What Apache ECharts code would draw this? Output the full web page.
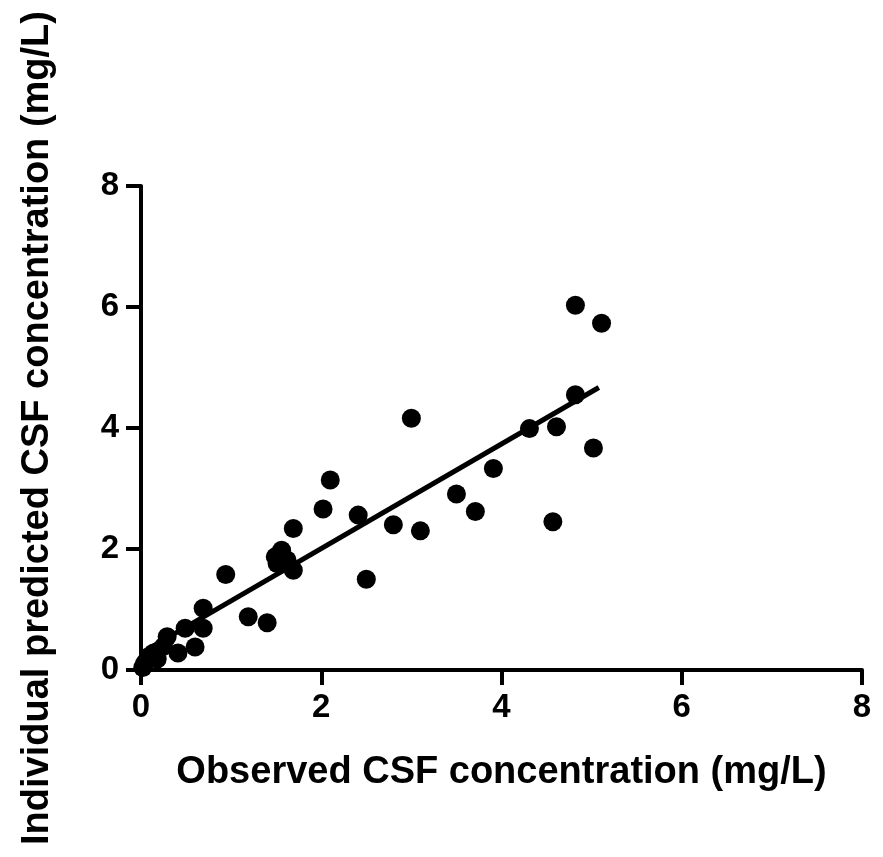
<!DOCTYPE html>
<html>
<head>
<meta charset="utf-8">
<script src="https://cdn.jsdelivr.net/npm/echarts@6/dist/echarts.min.js"></script>
<style>
html,body{margin:0;padding:0;background:#fff;}
#chart{width:883px;height:857px;}
</style>
</head>
<body>
<div id="chart"></div>
<script>
// Observed (x) vs individual predicted (y) CSF concentrations, mg/L
const observed = [4.82, 5.11, 4.82, 4.31, 4.61, 5.02, 3.91, 3.71, 4.57, 3.00,
  2.10, 2.02, 2.41, 2.80, 3.10, 3.50, 2.50, 1.69, 1.56, 1.49,
  1.51, 1.69, 1.62, 0.94, 1.19, 1.40, 0.69, 0.69, 0.49, 0.60,
  0.29, 0.41, 0.25, 0.14, 0.07, 0.04, 0.18, 0.02];
const predicted = [6.03, 5.73, 4.55, 3.99, 4.02, 3.67, 3.33, 2.62, 2.45, 4.16,
  3.14, 2.66, 2.56, 2.40, 2.30, 2.91, 1.50, 2.34, 1.98, 1.87,
  1.76, 1.65, 1.82, 1.58, 0.88, 0.78, 1.02, 0.69, 0.69, 0.38,
  0.55, 0.28, 0.39, 0.28, 0.17, 0.11, 0.18, 0.04];
// Regression line end points
const fitX = [0, 5.08];
const fitY = [0.28, 4.67];
const xTicks = [0, 2, 4, 6, 8];
const yTicks = [0, 2, 4, 6, 8];

const FONT = '"Liberation Sans", Arial, sans-serif';
const points = observed.map((x, i) => [x, predicted[i]]);
const fitLine = fitX.map((x, i) => [x, fitY[i]]);

const chart = echarts.init(document.getElementById('chart'), null, {renderer: 'canvas'});
const axisCommon = {
  type: 'value',
  min: xTicks[0],
  max: xTicks[xTicks.length - 1],
  interval: 2,
  nameLocation: 'middle',
  nameTextStyle: {fontFamily: FONT, fontWeight: 'bold', fontSize: 38, color: '#000'},
  axisLine: {show: true, onZero: false, lineStyle: {color: '#000', width: 4}},
  axisTick: {show: true, inside: false, length: 15, lineStyle: {color: '#000', width: 4}},
  axisLabel: {fontFamily: FONT, fontWeight: 'bold', fontSize: 33, color: '#000'},
  splitLine: {show: false}
};
chart.setOption({
  backgroundColor: '#fff',
  animation: false,
  grid: {left: 141, right: 21, top: 186, bottom: 187, containLabel: false},
  xAxis: Object.assign({}, axisCommon, {
    name: 'Observed CSF concentration (mg/L)',
    nameGap: 84,
    axisLabel: Object.assign({}, axisCommon.axisLabel, {margin: 21})
  }),
  yAxis: Object.assign({}, axisCommon, {
    min: yTicks[0],
    max: yTicks[yTicks.length - 1],
    name: 'Individual predicted CSF concentration (mg/L)',
    nameGap: 84,
    axisLabel: Object.assign({}, axisCommon.axisLabel, {margin: 22})
  }),
  series: [
    {
      type: 'line',
      data: fitLine,
      symbol: 'none',
      lineStyle: {color: '#000', width: 5},
      z: 2
    },
    {
      type: 'scatter',
      data: points,
      symbol: 'circle',
      symbolSize: 19,
      itemStyle: {color: '#000', opacity: 1},
      clip: false,
      z: 3
    }
  ]
});
</script>
</body>
</html>
